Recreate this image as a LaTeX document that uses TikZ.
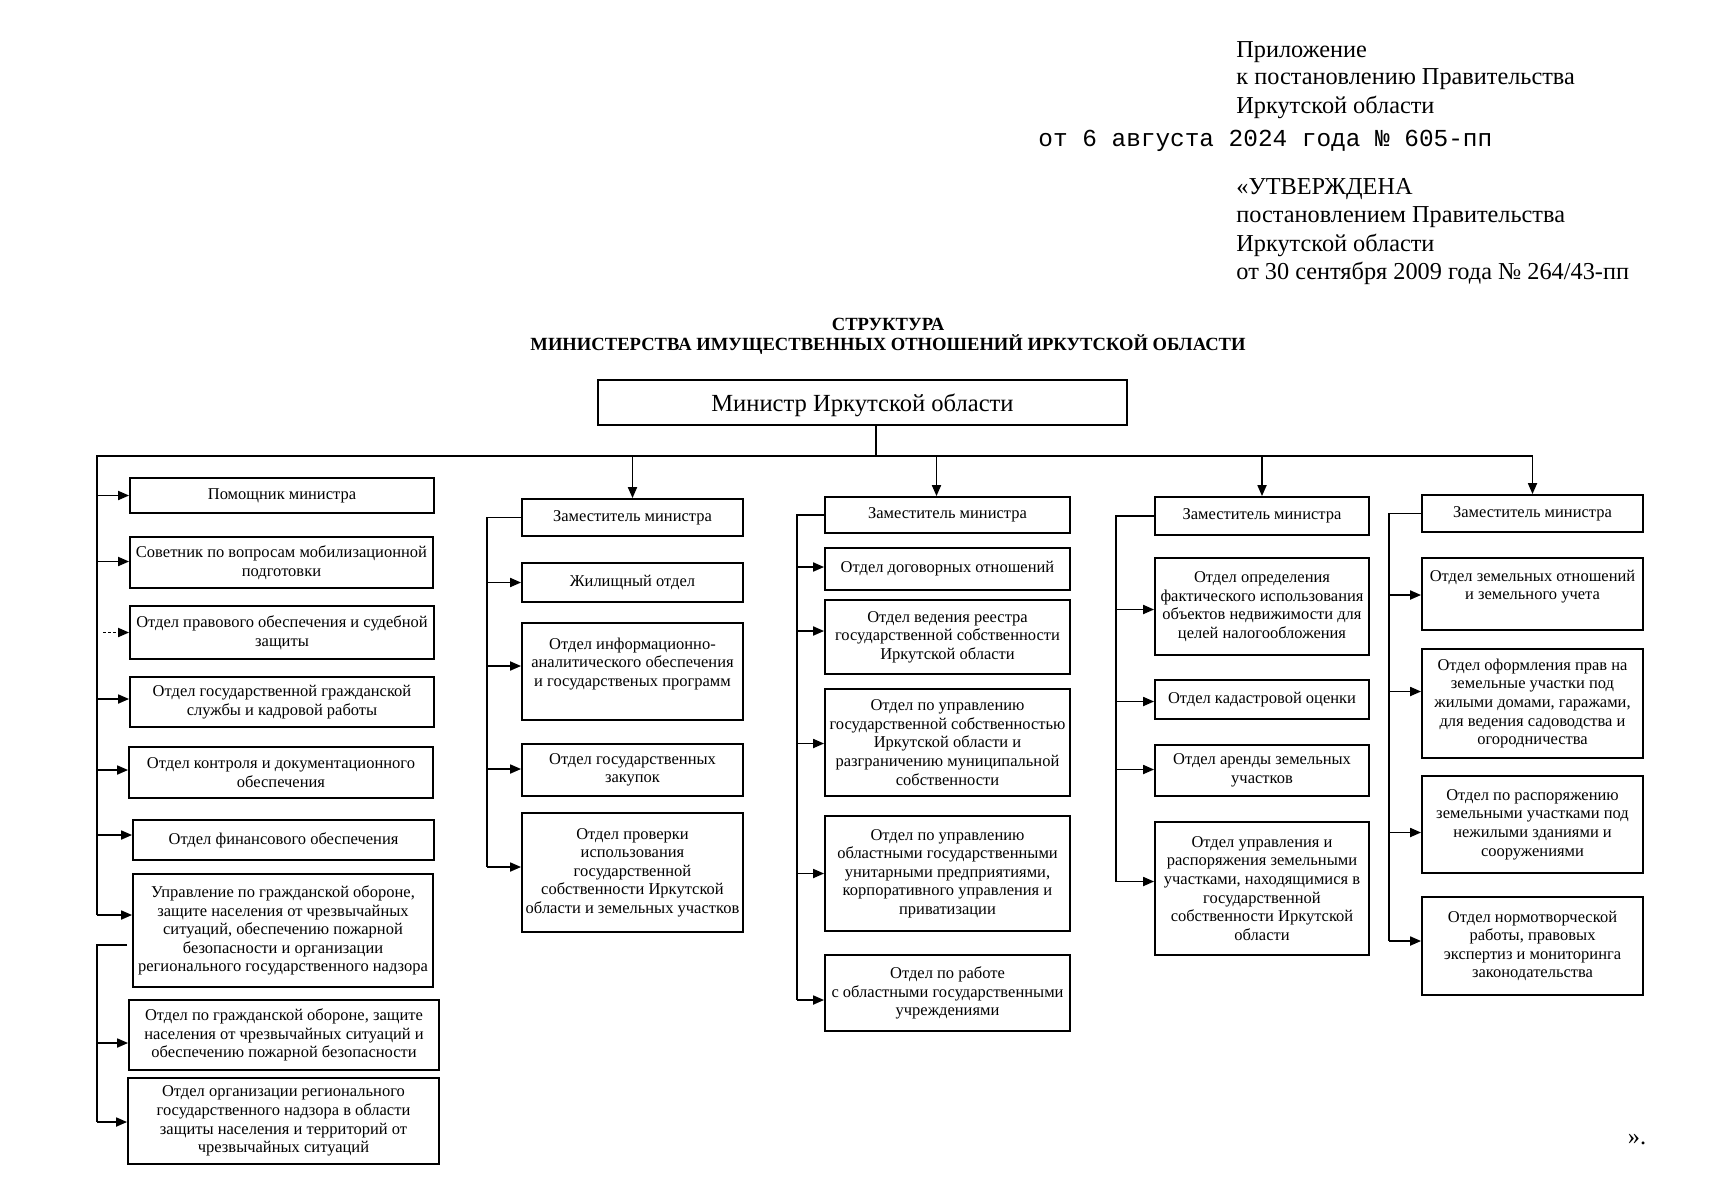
\documentclass[tikz,border=0pt]{standalone}
\usepackage{fontspec}
\setmainfont{Liberation Serif}
\newfontfamily\monofont{Liberation Mono}
\usetikzlibrary{arrows.meta,calc}
\tikzset{
  boxst/.style={draw, line width=0.9pt, inner sep=0pt, align=center,
    font=\fontsize{8.25pt}{9.3pt}\selectfont},
  arr/.style={line width=0.9pt, -{Triangle[length=5.5pt,width=4.5pt]}},
  ln/.style={line width=0.9pt},
  hdr/.style={anchor=west, inner sep=0pt, font=\fontsize{12.15pt}{14pt}\selectfont},
  ttl/.style={inner sep=0pt, font=\bfseries\fontsize{9.3pt}{11pt}\selectfont},
}
\newcommand\bx[6]{\node[boxst, minimum width={(#4-#2)*0.5pt}, minimum height={(#5-#3)*0.5pt}] (#1) at ({(#2+#4)/2},{(#3+#5)/2}) {#6};}
\newcommand\arrto[3]{\coordinate (#2a) at ($(#2.west)+(0,#3)$); \draw[arr] (#1 |- #2a) -- (#2a);}
\begin{document}
\begin{tikzpicture}[x=0.5pt,y=-0.5pt]
\useasboundingbox (0,0) rectangle (1712,1200);
% header
\node[hdr] (h1) at (1236,52) {Приложение};
\node[hdr] (h2) at (1236,79.5) {к постановлению Правительства};
\node[hdr] (h3) at (1236,107.5) {Иркутской области};
\node[hdr, font=\monofont\fontsize{12.2pt}{14pt}\selectfont] (h4) at (1038,140.5) {от 6 августа 2024 года № 605-пп};
\node[hdr] (h5) at (1236,189.5) {«УТВЕРЖДЕНА};
\node[hdr] (h6) at (1236,217.5) {постановлением Правительства};
\node[hdr] (h7) at (1236,245.5) {Иркутской области};
\node[hdr] (h8) at (1236,273.5) {от 30 сентября 2009 года № 264/43-пп};
\node[hdr, anchor=center] (q) at (1637,1140) {».};
% title
\node[ttl] (t1) at (888,324) {СТРУКТУРА};
\node[ttl] (t2) at (888,345) {МИНИСТЕРСТВА ИМУЩЕСТВЕННЫХ ОТНОШЕНИЙ ИРКУТСКОЙ ОБЛАСТИ};
% minister
\node[boxst, minimum width=264.5pt, minimum height=22.5pt, text depth=0pt, font=\fontsize{12.3pt}{14pt}\selectfont] (min) at (862.5,402.5) {Министр Иркутской области};
% column 1
\bx{B1}{130}{478}{434}{513}{Помощник министра}
\bx{B2}{130}{537}{433}{588}{Советник по вопросам мобилизационной\\подготовки}
\bx{B3}{130}{606}{434}{659}{Отдел правового обеспечения и судебной\\защиты}
\bx{B4}{130}{677}{434}{727}{Отдел государственной гражданской\\службы и кадровой работы}
\bx{B5}{129}{747}{433}{798}{Отдел контроля и документационного\\обеспечения}
\bx{B6}{133}{820}{434}{860}{Отдел финансового обеспечения}
\bx{B7}{133}{874}{433}{987}{Управление по гражданской обороне,\\защите населения от чрезвычайных\\ситуаций, обеспечению пожарной\\безопасности и организации\\регионального государственного надзора}
\bx{B8}{129}{1000}{439}{1070}{Отдел по гражданской обороне, защите\\населения от чрезвычайных ситуаций и\\обеспечению пожарной безопасности}
\bx{B9}{128}{1078}{439}{1164}{Отдел организации регионального\\государственного надзора в области\\защиты населения и территорий от\\чрезвычайных ситуаций}
% column 2
\bx{Z2}{522}{499}{743}{536}{Заместитель министра}
\bx{C21}{522}{563}{743}{602}{Жилищный отдел}
\bx{C22}{522}{623}{743}{720}{Отдел информационно-\\аналитического обеспечения\\и государственых программ\\\mbox{}}
\bx{C23}{522}{744}{743}{796}{Отдел государственных\\закупок}
\bx{C24}{522}{813}{743}{932}{Отдел проверки\\использования\\государственной\\собственности Иркутской\\области и земельных участков}
% column 3
\bx{Z3}{825}{497}{1070}{533}{Заместитель министра}
\bx{C31}{825}{548}{1070}{590}{Отдел договорных отношений}
\bx{C32}{825}{600}{1070}{674}{Отдел ведения реестра\\государственной собственности\\Иркутской области}
\bx{C33}{825}{689}{1070}{796}{Отдел по управлению\\государственной собственностью\\Иркутской области и\\разграничению муниципальной\\собственности}
\bx{C34}{825}{816}{1070}{931}{Отдел по управлению\\областными государственными\\унитарными предприятиями,\\корпоративного управления и\\приватизации}
\bx{C35}{825}{955}{1070}{1031}{Отдел по работе\\с областными государственными\\учреждениями}
% column 4
\bx{Z4}{1155}{497}{1369}{535}{Заместитель министра}
\bx{C41}{1155}{558}{1369}{655}{Отдел определения\\фактического использования\\объектов недвижимости для\\целей налогообложения}
\bx{C42}{1155}{680}{1369}{719}{Отдел кадастровой оценки}
\bx{C43}{1155}{745}{1369}{796}{Отдел аренды земельных\\участков}
\bx{C44}{1155}{822}{1369}{955}{Отдел управления и\\распоряжения земельными\\участками, находящимися в\\государственной\\собственности Иркутской\\области}
% column 5
\bx{Z5}{1422}{495}{1643}{532}{Заместитель министра}
\bx{C51}{1422}{558}{1643}{630}{Отдел земельных отношений\\и земельного учета\\\mbox{}}
\bx{C52}{1422}{649}{1643}{758}{Отдел оформления прав на\\земельные участки под\\жилыми домами, гаражами,\\для ведения садоводства и\\огородничества}
\bx{C53}{1422}{776}{1643}{873}{Отдел по распоряжению\\земельными участками под\\нежилыми зданиями и\\сооружениями}
\bx{C54}{1422}{897}{1643}{995}{Отдел нормотворческой\\работы, правовых\\экспертиз и мониторинга\\законодательства}
% line coordinates
\coordinate (v1) at (97,456);
\coordinate (v2) at (487,456);
\coordinate (v3) at (797,456);
\coordinate (v4) at (1116,456);
\coordinate (v5) at (1389,456);
\coordinate (g1) at (97,945);
\coordinate (gs) at (127,945);
% minister to main line
\coordinate (mv) at ($(min.south)+(13.5,0)$);
\draw[ln] (mv) -- (mv |- v1);
% column 1 arrows
\arrto{v1}{B1}{0}
\arrto{v1}{B2}{-1}
\coordinate (B3a) at (B3.west);
\draw[arr, dash pattern=on 1.5pt off 1pt] ($(v1 |- B3a)+(6,0)$) -- (B3a);
\arrto{v1}{B4}{-3}
\arrto{v1}{B5}{-2.5}
\arrto{v1}{B6}{-5}
\arrto{v1}{B7}{-15.5}
\draw[ln] (v1 |- B7a) -- (v1) -- (Z5.north |- v1);
\draw[arr] (Z5.north |- v1) -- (Z5.north);
\draw[arr] (Z2.north |- v1) -- (Z2.north);
\coordinate (Z3t) at ($(Z3.north)+(-11,0)$);
\draw[arr] (Z3t |- v1) -- (Z3t);
\draw[arr] (Z4.north |- v1) -- (Z4.north);
% second group
\arrto{g1}{B8}{8}
\arrto{g1}{B9}{1}
\draw[ln] (gs) -- (g1) -- (g1 |- B9a);
% column 2
\arrto{v2}{C21}{0}
\arrto{v2}{C22}{-5.5}
\arrto{v2}{C23}{-1}
\arrto{v2}{C24}{-5.5}
\draw[ln] (Z2.west) -- (v2 |- Z2.west) -- (v2 |- C24a);
% column 3
\arrto{v3}{C31}{-2}
\arrto{v3}{C32}{-6}
\arrto{v3}{C33}{1}
\arrto{v3}{C34}{0}
\arrto{v3}{C35}{7}
\draw[ln] (Z3.west) -- (v3 |- Z3.west) -- (v3 |- C35a);
% column 4
\arrto{v4}{C41}{3}
\arrto{v4}{C42}{2}
\arrto{v4}{C43}{-1}
\arrto{v4}{C44}{-7}
\draw[ln] (Z4.west) -- (v4 |- Z4.west) -- (v4 |- C44a);
% column 5
\arrto{v5}{C51}{1}
\arrto{v5}{C52}{-12}
\arrto{v5}{C53}{8}
\arrto{v5}{C54}{-5}
\draw[ln] (Z5.west) -- (v5 |- Z5.west) -- (v5 |- C54a);
\end{tikzpicture}
\end{document}
